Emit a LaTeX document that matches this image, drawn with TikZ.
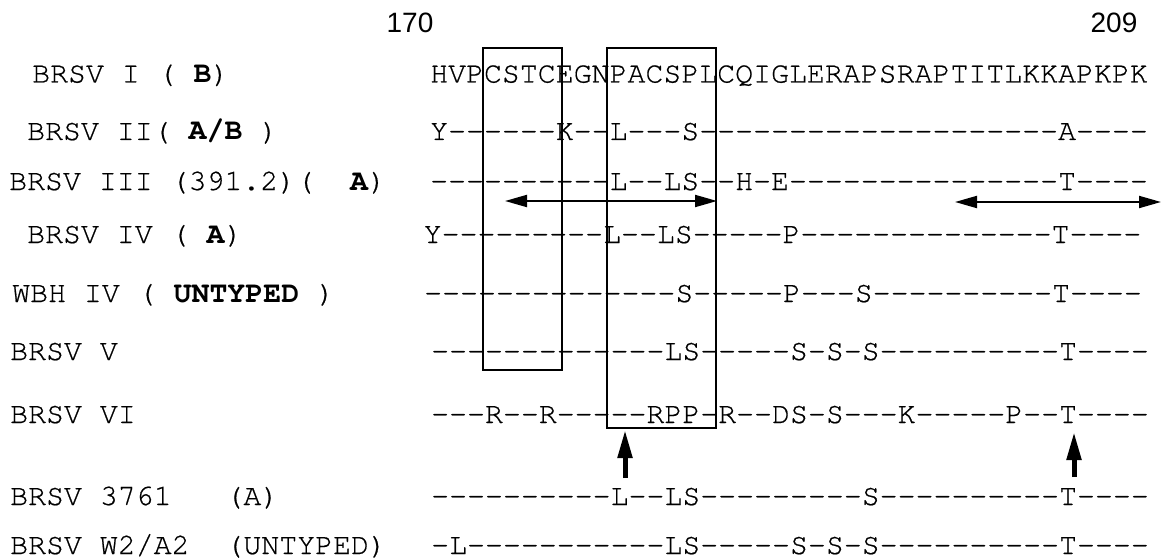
\documentclass[tikz,border=0pt]{standalone}
\usepackage{fontspec}
\usetikzlibrary{arrows.meta}
\newfontfamily\seqfont[Ligatures=TeXOff, UprightFeatures={FakeBold=0.6}]{TeX Gyre Cursor}
\newfontfamily\numfont{Liberation Sans}

\tikzset{
    seq/.style={anchor=base west, inner sep=0pt, font=\seqfont\fontsize{29.9}{36}\selectfont},
    resnum/.style={anchor=base, inner sep=0pt, font=\numfont\fontsize{28}{34}\selectfont},
    motif/.style={line width=2pt},
    rangearrow/.style={line width=2pt, {Triangle[length=22pt,width=12pt]}-{Triangle[length=22pt,width=12pt]}},
    siteup/.style={line width=5pt, -{Triangle[length=28pt,width=14pt]}}
}

\begin{document}
\begin{tikzpicture}[x=1pt, y=-1pt]
            \useasboundingbox (0,0) rectangle (1162,559);

            \node[resnum] (n170) at (410,33) {170};
            \node[resnum] (n209) at (1114,33) {209};

            \node[seq] (l1) at (32,82.5) {BRSV I ( \textbf{B})};
            \node[seq] (l2) at (27,140) {BRSV II( \textbf{A/B} )};
            \node[seq] (l3) at (9,190) {BRSV III (391.2)(~~\textbf{A})};
            \node[seq] (l4) at (27,243) {BRSV IV ( \textbf{A})};
            \node[seq] (l5) at (12,302) {WBH IV ( \textbf{UNTYPED} )};
            \node[seq] (l6) at (10,360) {BRSV V};
            \node[seq] (l7) at (10,423) {BRSV VI};
            \node[seq] (l8) at (10,505) {BRSV 3761~~~(A)};
            \node[seq] (l9) at (10,554) {BRSV W2/A2~~(UNTYPED)};

            \node[seq] (s1) at (430,82.5) {HVPCSTCEGNPACSPLCQIGLERAPSRAPTITLKKAPKPK};
            \node[seq] (s2) at (430,140) {Y------K--L---S--------------------A----};
            \node[seq] (s3) at (430,190) {----------L--LS--H-E---------------T----};
            \node[seq] (s4) at (423.5,243) {Y---------L--LS-----P--------------T----};
            \node[seq] (s5) at (424,302) {--------------S-----P---S----------T----};
            \node[seq] (s6) at (431,360) {-------------LS-----S-S-S----------T----};
            \node[seq] (s7) at (431,423) {---R--R-----RPP-R--DS-S---K-----P--T----};
            \node[seq] (s8) at (431,505) {----------L--LS---------S----------T----};
            \node[seq] (s9) at (431,554) {-L-----------LS-----S-S-S----------T----};

            \draw[motif] (483,48) rectangle (562,370);
            \draw[motif] (607,48) rectangle (716,428);

            \coordinate (r1a) at (505,201);
            \coordinate (r1b) at (717,201);
            \coordinate (r2a) at (955,202);
            \coordinate (r2b) at (1161,202);
            \draw[rangearrow] (r1a) -- (r1b);
            \draw[rangearrow] (r2a) -- (r2b);

            \coordinate (u1) at (625,478);
            \coordinate (u2) at (1074,477);
            \draw[siteup] (u1) -- (625,430);
            \draw[siteup] (u2) -- (1074,432);
\end{tikzpicture}
\end{document}
